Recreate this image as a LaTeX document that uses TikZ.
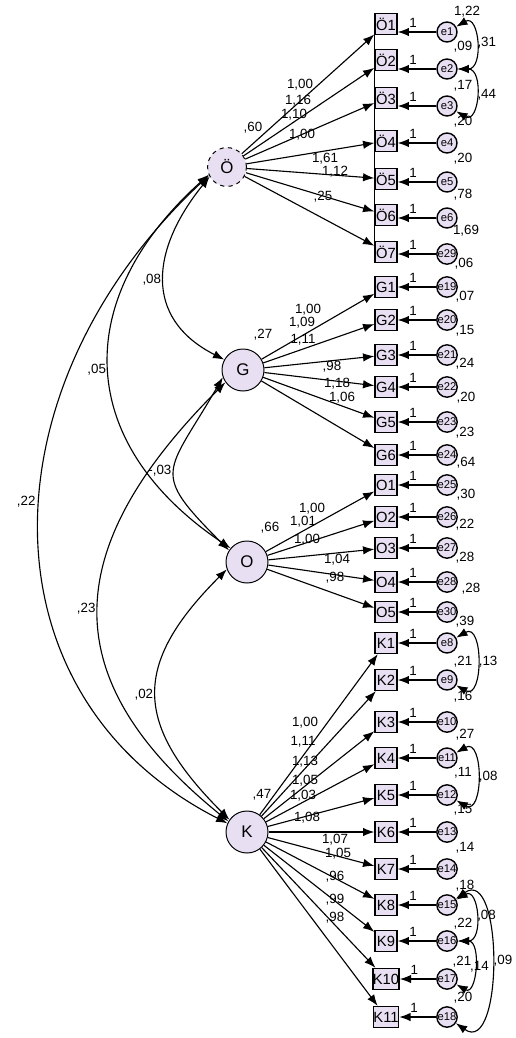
\documentclass[tikz,border=0pt]{standalone}
\usepackage{fontspec}
\setmainfont{Liberation Sans}
\usetikzlibrary{arrows.meta}
\definecolor{amos}{HTML}{E8E0F2}
\begin{document}
\begin{tikzpicture}[x=0.025cm, y=0.025cm,
    latent/.style={circle, draw, line width=0.7pt, fill=amos, minimum size=1.05cm, inner sep=0pt, font=\fontsize{12}{12}\selectfont},
    obs/.style={rectangle, draw, line width=1pt, fill=amos, minimum width=0.55cm, minimum height=0.525cm, inner sep=0pt, font=\fontsize{10.5}{11}\selectfont},
    err/.style={circle, draw, line width=1pt, fill=amos, minimum size=0.5cm, inner sep=0pt, font=\fontsize{8}{8}\selectfont},
    val/.style={inner sep=0pt, font=\fontsize{9.5}{10}\selectfont},
    load/.style={-{Latex[length=8pt,width=6pt]}, line width=0.8pt},
    cov/.style={{Latex[length=8pt,width=6pt]}-{Latex[length=8pt,width=6pt]}, line width=0.8pt}]
  \useasboundingbox (0,0) rectangle (515,-1038);
  \draw
    (227,-167) node[latent, dashed, minimum size=0.97cm] (oz){Ö}
    (243,-370) node[latent] (g){G}
    (247,-562) node[latent] (o){O}
    (247,-832) node[latent] (k){K};
  \draw
    (386,-24) node[obs] (oz1){Ö1}
    (386,-60) node[obs] (oz2){Ö2}
    (386,-98) node[obs] (oz3){Ö3}
    (386,-141) node[obs] (oz4){Ö4}
    (386,-179) node[obs] (oz5){Ö5}
    (386,-215) node[obs] (oz6){Ö6}
    (386,-252) node[obs] (oz7){Ö7}
    (386,-287) node[obs] (g1){G1}
    (386,-320) node[obs] (g2){G2}
    (386,-355) node[obs] (g3){G3}
    (386,-387) node[obs] (g4){G4}
    (386,-422) node[obs] (g5){G5}
    (386,-455) node[obs] (g6){G6}
    (386,-485) node[obs] (o1){O1}
    (386,-517) node[obs] (o2){O2}
    (386,-548) node[obs] (o3){O3}
    (386,-582) node[obs] (o4){O4}
    (386,-612) node[obs] (o5){O5}
    (386,-643) node[obs] (k1){K1}
    (386,-680) node[obs] (k2){K2}
    (386,-722) node[obs] (k3){K3}
    (386,-758) node[obs] (k4){K4}
    (386,-795) node[obs] (k5){K5}
    (386,-832) node[obs] (k6){K6}
    (386,-869) node[obs] (k7){K7}
    (386,-905) node[obs] (k8){K8}
    (386,-941) node[obs] (k9){K9}
    (386,-979) node[obs] (k10){K10}
    (386,-1017) node[obs] (k11){K11};
  \draw
    (447,-32) node[err] (e1){e1}
    (447,-69) node[err] (e2){e2}
    (447,-106) node[err] (e3){e3}
    (447,-143) node[err] (e4){e4}
    (447,-182) node[err] (e5){e5}
    (447,-218) node[err] (e6){e6}
    (447,-254) node[err] (e29){e29}
    (447,-287) node[err] (e19){e19}
    (447,-320) node[err] (e20){e20}
    (447,-355) node[err] (e21){e21}
    (447,-387) node[err] (e22){e22}
    (447,-422) node[err] (e23){e23}
    (447,-455) node[err] (e24){e24}
    (447,-485) node[err] (e25){e25}
    (447,-517) node[err] (e26){e26}
    (447,-548) node[err] (e27){e27}
    (447,-582) node[err] (e28){e28}
    (447,-612) node[err] (e30){e30}
    (447,-643) node[err] (e8){e8}
    (447,-680) node[err] (e9){e9}
    (447,-722) node[err] (e10){e10}
    (447,-758) node[err] (e11){e11}
    (447,-795) node[err] (e12){e12}
    (447,-832) node[err] (e13){e13}
    (447,-869) node[err] (e14){e14}
    (447,-905) node[err] (e15){e15}
    (447,-941) node[err] (e16){e16}
    (447,-979) node[err] (e17){e17}
    (447,-1017) node[err] (e18){e18};
  \draw[thin] (oz1.south west) -- (oz7.north west);
  \begin{scope}[load]
    \draw (oz) to (oz1);
    \draw (oz) to (oz2);
    \draw (oz) to (oz3);
    \draw (oz) to (oz4);
    \draw (oz) to (oz5);
    \draw (oz) to (oz6);
    \draw (oz) to (oz7);
    \draw (g) to (g1);
    \draw (g) to (g2);
    \draw (g) to (g3);
    \draw (g) to (g4);
    \draw (g) to (g5);
    \draw (g) to (g6);
    \draw (o) to (o1);
    \draw (o) to (o2);
    \draw (o) to (o3);
    \draw (o) to (o4);
    \draw (o) to (o5);
    \draw (k) to (k1);
    \draw (k) to (k2);
    \draw (k) to (k3);
    \draw (k) to (k4);
    \draw (k) to (k5);
    \draw (k) to (k6);
    \draw (k) to (k7);
    \draw (k) to (k8);
    \draw (k) to (k9);
    \draw (k) to (k10);
    \draw (k) to (k11);
  \end{scope}
  \begin{scope}[load, every node/.style={val, pos=.6, above=3pt}]
    \draw (e1) to node (w1){1} (e1 -| oz1.east);
    \draw (e2) to node (w2){1} (e2 -| oz2.east);
    \draw (e3) to node (w3){1} (e3 -| oz3.east);
    \draw (e4) to node (w4){1} (e4 -| oz4.east);
    \draw (e5) to node (w5){1} (e5 -| oz5.east);
    \draw (e6) to node (w6){1} (e6 -| oz6.east);
    \draw (e29) to node (w29){1} (e29 -| oz7.east);
    \draw (e19) to node (w19){1} (g1);
    \draw (e20) to node (w20){1} (g2);
    \draw (e21) to node (w21){1} (g3);
    \draw (e22) to node (w22){1} (g4);
    \draw (e23) to node (w23){1} (g5);
    \draw (e24) to node (w24){1} (g6);
    \draw (e25) to node (w25){1} (o1);
    \draw (e26) to node (w26){1} (o2);
    \draw (e27) to node (w27){1} (o3);
    \draw (e28) to node (w28){1} (o4);
    \draw (e30) to node (w30){1} (o5);
    \draw (e8) to node (w8){1} (k1);
    \draw (e9) to node (w9){1} (k2);
    \draw (e10) to node (w10){1} (k3);
    \draw (e11) to node (w11){1} (k4);
    \draw (e12) to node (w12){1} (k5);
    \draw (e13) to node (w13){1} (k6);
    \draw (e14) to node (w14){1} (k7);
    \draw (e15) to node (w15){1} (k8);
    \draw (e16) to node (w16){1} (k9);
    \draw (e17) to node (w17){1} (k10);
    \draw (e18) to node (w18){1} (k11);
  \end{scope}
  \begin{scope}[cov, every node/.style={val}]
    \draw (oz.209) .. controls +(231:92) and +(153:92) .. (g.151) node[midway, left=2pt] (c1){,08};
    \draw (oz.203) .. controls +(222:187) and +(146:187) .. (o.140) node[midway, left=2pt] (c2){,05};
    \draw (oz.205) .. controls +(223:310) and +(153:280) .. (k.156) node[pos=.46, left=3pt] (c3){,22};
    \draw (g.200) .. controls +(240:113) and +(135:113) .. (o.147) node[midway, left=2pt] (c4){-,03};
    \draw (g.215) .. controls +(225:230) and +(141:230) .. (k.150) node[midway, left=2pt] (c5){,23};
    \draw (o.200) .. controls +(225:135) and +(135:135) .. (k.145) node[midway, left=2pt] (c6){,02};
    \draw (e1) to[out=30, in=0, looseness=1.6] node[right=1pt] (c7){,31} (e2);
    \draw (e2) to[out=0, in=-30, looseness=1.6] node[right=1pt] (c8){,44} (e3);
    \draw (e8) to[out=30, in=-30, looseness=1.7] node[right=1pt] (c9){,13} (e9);
    \draw (e11) to[out=30, in=-30, looseness=1.7] node[right=1pt] (c10){,08} (e12);
    \draw (e15) to[out=30, in=0, looseness=1.6] node[right=1pt] (c11){,08} (e16);
    \draw (e16) to[out=0, in=-30, looseness=1.4] node[right=-3pt] (c12){,14} (e17);
    \draw (e15) to[out=35, in=-35, looseness=1.2] node[right=1pt] (c13){,09} (e18);
  \end{scope}
  \path[every node/.style=val]
    (253,-128) node (vz){,60}
    (263,-335) node (vg){,27}
    (270,-528) node (vo){,66}
    (262,-795) node (vk){,47}
    (300,-85) node (lz1){1,00}
    (298,-101) node (lz2){1,16}
    (294,-115) node (lz3){1,10}
    (302,-135) node (lz4){1,00}
    (325,-159) node (lz5){1,61}
    (335,-172) node (lz6){1,12}
    (323,-197) node (lz7){,25}
    (308,-310) node (lg1){1,00}
    (302,-323) node (lg2){1,09}
    (303,-340) node (lg3){1,11}
    (332,-367) node (lg4){,98}
    (337,-384) node (lg5){1,18}
    (342,-398) node (lg6){1,06}
    (312,-509) node (lo1){1,00}
    (303,-522) node (lo2){1,01}
    (307,-540) node (lo3){1,00}
    (337,-560) node (lo4){1,04}
    (335,-578) node (lo5){,98}
    (305,-723) node (lk1){1,00}
    (303,-742) node (lk2){1,11}
    (305,-762) node (lk3){1,13}
    (305,-781) node (lk4){1,05}
    (303,-796) node (lk5){1,03}
    (307,-818) node (lk6){1,08}
    (335,-840) node (lk7){1,07}
    (338,-854) node (lk8){1,05}
    (335,-877) node (lk9){,96}
    (335,-900) node (lk10){,99}
    (335,-918) node (lk11){,98};
  \path[every node/.style=val]
    (467,-12) node (ve1){1,22}
    (463,-47) node (ve2){,09}
    (463,-86) node (ve3){,17}
    (463,-122) node (ve4){,20}
    (463,-159) node (ve5){,20}
    (463,-195) node (ve6){,78}
    (466,-231) node (ve29){1,69}
    (464,-264) node (ve19){,06}
    (465,-297) node (ve20){,07}
    (465,-331) node (ve21){,15}
    (465,-364) node (ve22){,24}
    (466,-398) node (ve23){,20}
    (465,-433) node (ve24){,23}
    (466,-463) node (ve25){,64}
    (466,-495) node (ve26){,30}
    (465,-525) node (ve27){,22}
    (465,-558) node (ve28){,28}
    (471,-589) node (ve30){,28}
    (465,-622) node (ve8){,39}
    (463,-662) node (ve9){,21}
    (463,-697) node (ve10){,16}
    (465,-735) node (ve11){,27}
    (463,-773) node (ve12){,11}
    (463,-810) node (ve13){,15}
    (465,-848) node (ve14){,14}
    (465,-886) node (ve15){,18}
    (463,-924) node (ve16){,22}
    (462,-962) node (ve17){,21}
    (463,-998) node (ve18){,20};
\end{tikzpicture}
\end{document}
